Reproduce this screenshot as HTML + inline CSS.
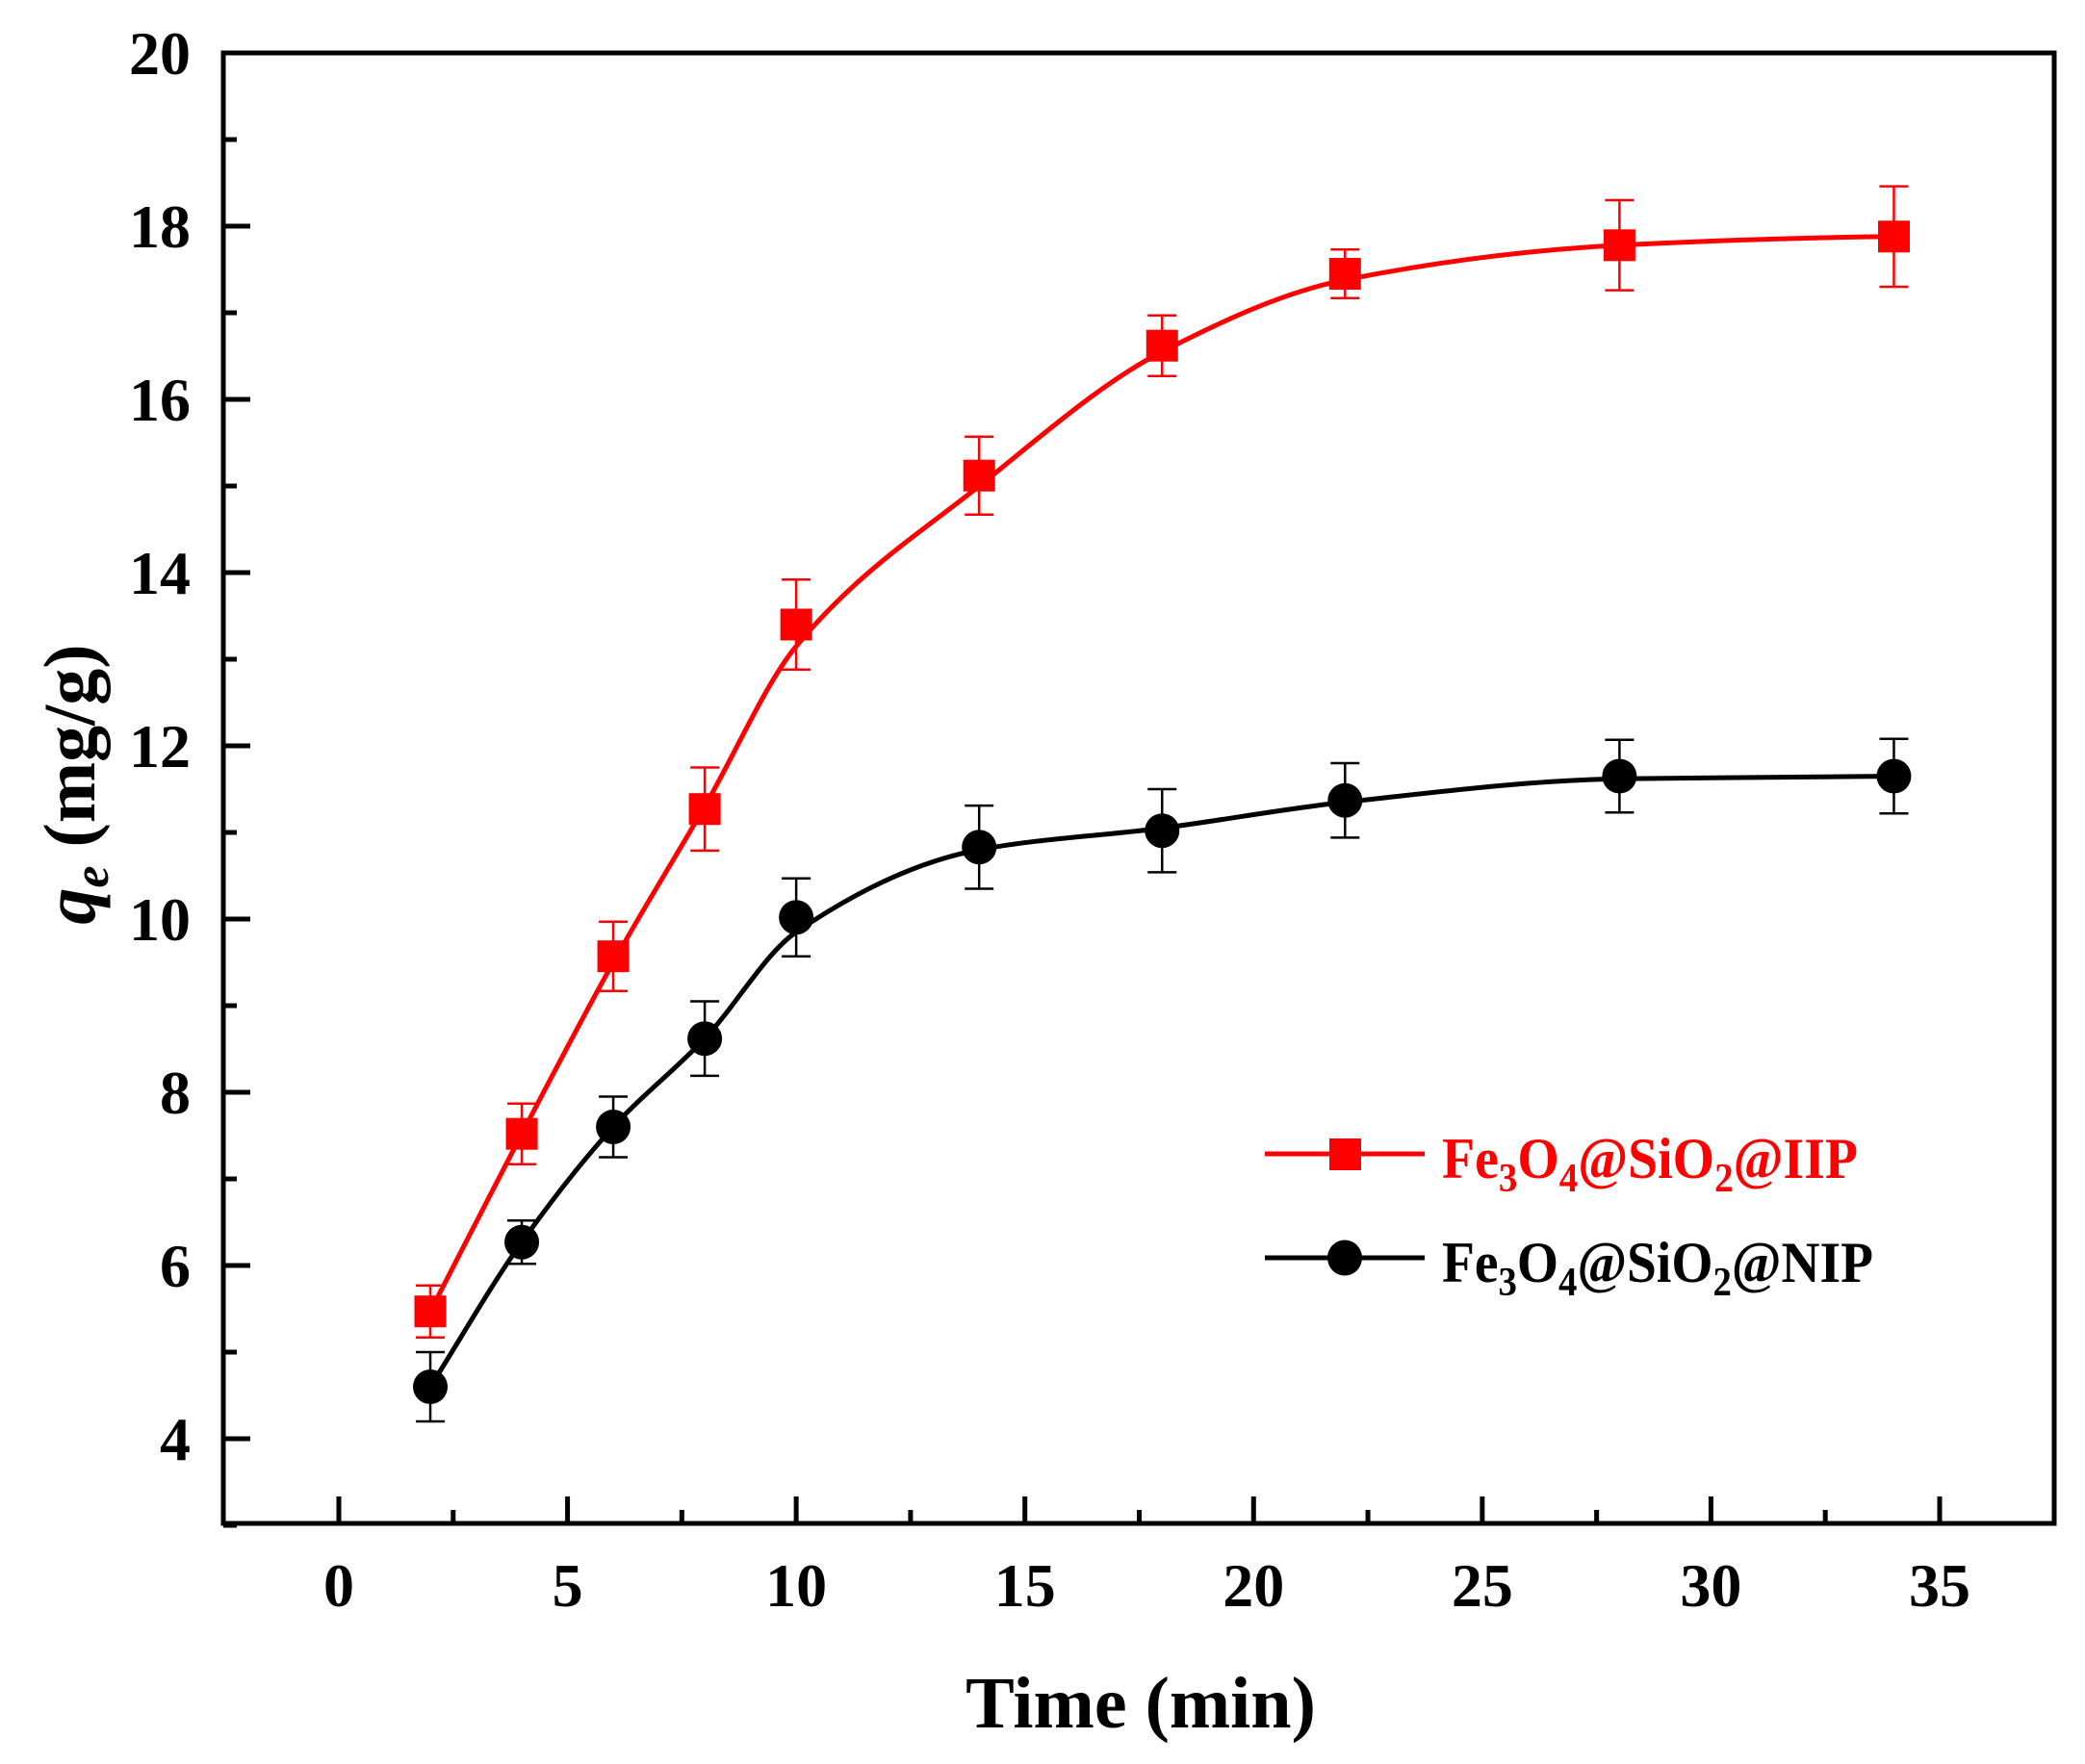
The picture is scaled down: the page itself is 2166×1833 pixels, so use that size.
<!DOCTYPE html>
<html><head><meta charset="utf-8"><style>
html,body{margin:0;padding:0;background:#fff}
svg{display:block}
text{font-family:"Liberation Serif",serif;font-weight:bold}
</style></head><body>
<svg id="s" width="2166" height="1833" viewBox="0 0 2166 1833" xmlns="http://www.w3.org/2000/svg">
<rect x="0" y="0" width="2166" height="1833" fill="#fff"/>
<g id="ticks" stroke="#000" stroke-width="5"></g>
<g id="lbl" font-size="64" fill="#000"></g>
<path id="redc" fill="none" stroke="#ff0000" stroke-width="5"/>
<path id="blkc" fill="none" stroke="#000" stroke-width="5"/>
<g id="err"></g>
<g id="mk"></g>
<rect x="232" y="55" width="1902" height="1528" fill="none" stroke="#000" stroke-width="5"/>
<text x="1185" y="1795" font-size="76" text-anchor="middle">Time (min)</text>
<text transform="translate(98,815) rotate(-90)" font-size="76" text-anchor="middle"><tspan font-style="italic">q</tspan><tspan font-style="italic" font-size="52" dy="14">e</tspan><tspan dy="-14"> (mg/g)</tspan></text>
<line x1="1314" y1="1199" x2="1480" y2="1199" stroke="#ff0000" stroke-width="5"/>
<rect x="1381" y="1183" width="33" height="33" fill="#ff0000"/>
<text x="1498" y="1224" font-size="60" fill="#ff0000" textLength="432" lengthAdjust="spacingAndGlyphs">Fe<tspan font-size="42" dy="14">3</tspan><tspan dy="-14">O</tspan><tspan font-size="42" dy="14">4</tspan><tspan dy="-14">@SiO</tspan><tspan font-size="42" dy="14">2</tspan><tspan dy="-14">@IIP</tspan></text>
<line x1="1314" y1="1307" x2="1480" y2="1307" stroke="#000" stroke-width="5"/>
<ellipse cx="1397" cy="1307" rx="18" ry="18.5" fill="#000"/>
<text x="1498" y="1332" font-size="60" fill="#000" textLength="448" lengthAdjust="spacingAndGlyphs">Fe<tspan font-size="42" dy="14">3</tspan><tspan dy="-14">O</tspan><tspan font-size="42" dy="14">4</tspan><tspan dy="-14">@SiO</tspan><tspan font-size="42" dy="14">2</tspan><tspan dy="-14">@NIP</tspan></text>
</svg>
<script>
var NS="http://www.w3.org/2000/svg";
function X(v){return 352+v*47.514;}
function Y(v){return 55+(20-v)*90;}
function el(t,a,p){var e=document.createElementNS(NS,t);for(var k in a)e.setAttribute(k,a[k]);document.getElementById(p).appendChild(e);return e;}
for(var v=3;v<=20;v++){var maj=(v%2==0);el("line",{x1:232,x2:232+(maj?28:14),y1:Y(v),y2:Y(v)},"ticks");
 if(maj){var t=el("text",{x:198,y:Y(v)+22,"text-anchor":"end"},"lbl");t.textContent=v;}}
for(var v=0;v<=35;v+=2.5){var maj=(v%5==0);el("line",{x1:X(v),x2:X(v),y1:1583,y2:1583-(maj?28:14)},"ticks");
 if(maj){var t=el("text",{x:X(v),y:1669,"text-anchor":"middle"},"lbl");t.textContent=v;}}
var xs=[2,4,6,8,10,14,18,22,28,34];
var red=[5.47,7.52,9.57,11.27,13.4,15.12,16.62,17.45,17.78,17.88];
var rE=[0.3,0.35,0.4,0.48,0.52,0.45,0.35,0.28,0.52,0.58];
var blk=[4.6,6.27,7.6,8.62,10.02,10.83,11.02,11.37,11.65,11.65];
var bE=[0.4,0.25,0.35,0.43,0.45,0.48,0.48,0.43,0.42,0.43];
// smoothed control values for curve (approximating Origin spline)
var redS=[5.47,7.52,9.5,11.3,13.15,15.0,16.55,17.38,17.78,17.88];
var blkS=[4.6,6.27,7.6,8.62,9.85,10.8,11.05,11.35,11.62,11.65];
function curve(ys){var n=xs.length,m=[];var d=[];
 for(var i=0;i<n-1;i++)d.push((ys[i+1]-ys[i])/(xs[i+1]-xs[i]));
 for(var i=0;i<n;i++){if(i==0)m.push(d[0]);else if(i==n-1)m.push(d[n-2]*0.3);else{
  if(d[i-1]*d[i]<=0)m.push(0);else{var w1=2*(xs[i+1]-xs[i])+(xs[i]-xs[i-1]),w2=(xs[i+1]-xs[i])+2*(xs[i]-xs[i-1]);m.push((w1+w2)/(w1/d[i-1]+w2/d[i]));}}}
 var s="M"+X(xs[0])+","+Y(ys[0]);
 for(var i=0;i<n-1;i++){var h=xs[i+1]-xs[i];
  s+=" C"+X(xs[i]+h/3)+","+Y(ys[i]+m[i]*h/3)+" "+X(xs[i+1]-h/3)+","+Y(ys[i+1]-m[i+1]*h/3)+" "+X(xs[i+1])+","+Y(ys[i+1]);}
 return s;}
document.getElementById("redc").setAttribute("d",curve(redS));
document.getElementById("blkc").setAttribute("d",curve(blkS));
function errs(ys,es,c){for(var i=0;i<xs.length;i++){var x=X(xs[i]),a=Y(ys[i]+es[i]),b=Y(ys[i]-es[i]);
 el("path",{d:"M"+x+","+a+"V"+b+"M"+(x-15)+","+a+"H"+(x+15)+"M"+(x-15)+","+b+"H"+(x+15),stroke:c,"stroke-width":2.5,fill:"none"},"err");}}
errs(red,rE,"#ff0000");errs(blk,bE,"#000");
for(var i=0;i<xs.length;i++){el("rect",{x:X(xs[i])-16.5,y:Y(red[i])-16.5,width:33,height:33,fill:"#ff0000"},"mk");
 el("circle",{cx:X(xs[i]),cy:Y(blk[i]),r:18,fill:"#000"},"mk");}
</script>
</body></html>
